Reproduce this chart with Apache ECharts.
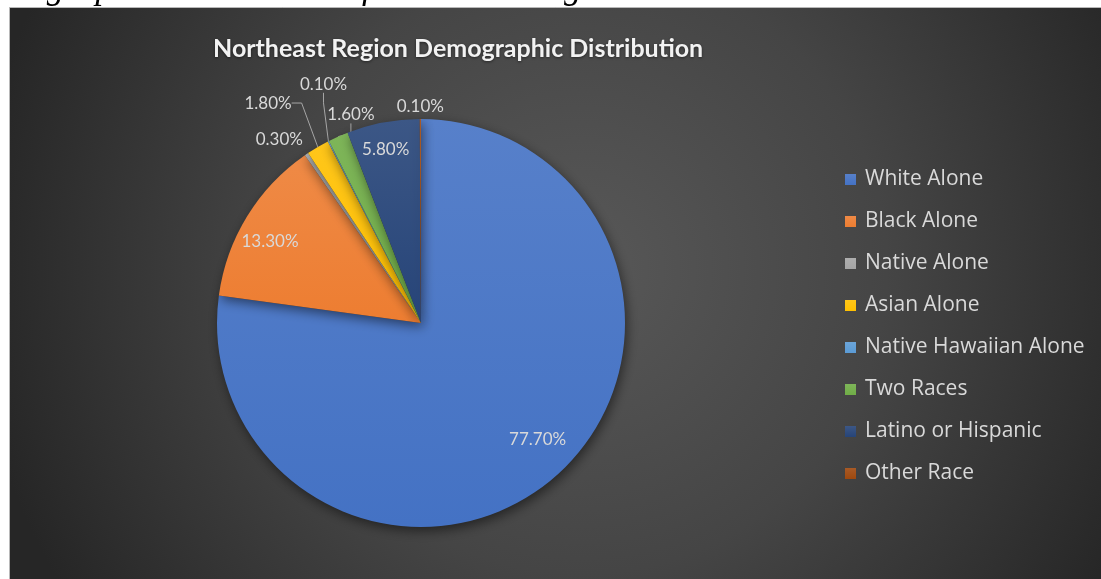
<!DOCTYPE html>
<html>
<head>
<meta charset="utf-8">
<script src="https://cdn.jsdelivr.net/npm/echarts@6/dist/echarts.min.js"></script>
<style>
  html, body { margin: 0; padding: 0; background: #ffffff; }
  #chart { width: 1101px; height: 579px; }
</style>
</head>
<body>
<div id="chart"></div>
<script>
// Census shares by group (percent of the Northeast population)
const categories = ['White Alone', 'Black Alone', 'Native Alone', 'Asian Alone',
  'Native Hawaiian Alone', 'Two Races', 'Latino or Hispanic', 'Other Race'];
const shares = [77.7, 13.3, 0.3, 1.8, 0.1, 1.6, 5.8, 0.1];
const chartTitle = 'Northeast Region Demographic Distribution';
const caption = 'Demographic Distribution of Northeast Region Based on U.S. Census Data';

// Office-style slice colours
const palette = ['#4472C4', '#ED7D31', '#A5A5A5', '#FFC000', '#5B9BD5', '#70AD47', '#264478', '#9E480E'];
// Label placement per slice: [radius factor, nudge x, nudge y]
const labelPlacement = [[0.81, 8, -8], [0.84, -5, 8], [1.15, -10, 11], [1.25, -24, 0],
  [1.28, 21, -6], [1.1, 21, -3], [0.85, -3, -3], [1.06, 0, 0]];
const insideLabel = [true, true, false, false, false, false, true, false];
const showLeader = [false, false, false, true, true, true, false, false];

const CX = 421, CY = 323, R = 204;
const total = shares.reduce((a, b) => a + b, 0);
const midAngles = [];
let acc = 0;
shares.forEach(v => { midAngles.push((acc + v / 2) / total * 2 * Math.PI); acc += v; });

function lighten(hex, f) {
  const n = parseInt(hex.slice(1), 16);
  const ch = [(n >> 16) & 255, (n >> 8) & 255, n & 255].map(c => Math.round(c + (255 - c) * f));
  return 'rgb(' + ch.join(',') + ')';
}

const chart = echarts.init(document.getElementById('chart'), null, { renderer: 'canvas' });

chart.setOption({
  animation: false,
  backgroundColor: '#ffffff',
  graphic: [
    {
      type: 'text', z2: 0, silent: true,
      style: {
        text: caption, x: 1022, y: -11, align: 'right', verticalAlign: 'middle',
        font: 'italic 35px "Liberation Serif", "DejaVu Serif", serif', fill: '#000000'
      }
    },
    {
      type: 'rect', z2: 1, silent: true,
      shape: { x: 9.5, y: 7.5, width: 1100, height: 580 },
      style: {
        fill: new echarts.graphic.RadialGradient(0.52, 0.45, 1.05, [
          { offset: 0, color: '#585858' },
          { offset: 0.5, color: '#454545' },
          { offset: 1, color: '#262626' }
        ]),
        stroke: '#b8b8b8', lineWidth: 1
      }
    }
  ],
  title: {
    text: chartTitle,
    left: 208, top: 31,
    textStyle: {
      color: '#f2f2f2', fontSize: 25, fontWeight: 'bold', fontFamily: 'Lato',
      textShadowColor: 'rgba(0,0,0,0.5)', textShadowBlur: 3, textShadowOffsetY: 1
    }
  },
  legend: {
    orient: 'vertical',
    left: 845, top: 169, padding: 0,
    itemWidth: 11, itemHeight: 11, itemGap: 21,
    icon: 'rect',
    data: categories,
    textStyle: { color: '#d9d9d9', fontSize: 21, fontFamily: 'Open Sans', padding: [0, 0, 0, 4] }
  },
  series: [{
    type: 'pie',
    center: [CX, CY],
    radius: R,
    startAngle: 90,
    clockwise: true,
    avoidLabelOverlap: false,
    emphasis: { disabled: true },
    itemStyle: {
      shadowBlur: 12, shadowColor: 'rgba(0,0,0,0.5)', shadowOffsetX: 2, shadowOffsetY: 4
    },
    label: {
      formatter: p => p.value.toFixed(2) + '%',
      color: '#d9d9d9', fontSize: 17, fontFamily: 'Lato'
    },
    labelLine: { length: 10, length2: 10, lineStyle: { color: '#a6a6a6', width: 1 } },
    labelLayout: function (params) {
      const i = params.dataIndex;
      const p = labelPlacement[i];
      const a = midAngles[i];
      return {
        x: CX + p[0] * R * Math.sin(a) + p[1],
        y: CY - p[0] * R * Math.cos(a) + p[2],
        align: 'center', verticalAlign: 'middle'
      };
    },
    data: categories.map((name, i) => ({
      name: name,
      value: shares[i],
      itemStyle: {
        color: new echarts.graphic.LinearGradient(0, 0, 0, 1, [
          { offset: 0, color: lighten(palette[i], 0.1) },
          { offset: 1, color: palette[i] }
        ])
      },
      label: { position: insideLabel[i] ? 'inside' : 'outside' },
      labelLine: { show: showLeader[i] }
    }))
  }]
});
</script>
</body>
</html>
